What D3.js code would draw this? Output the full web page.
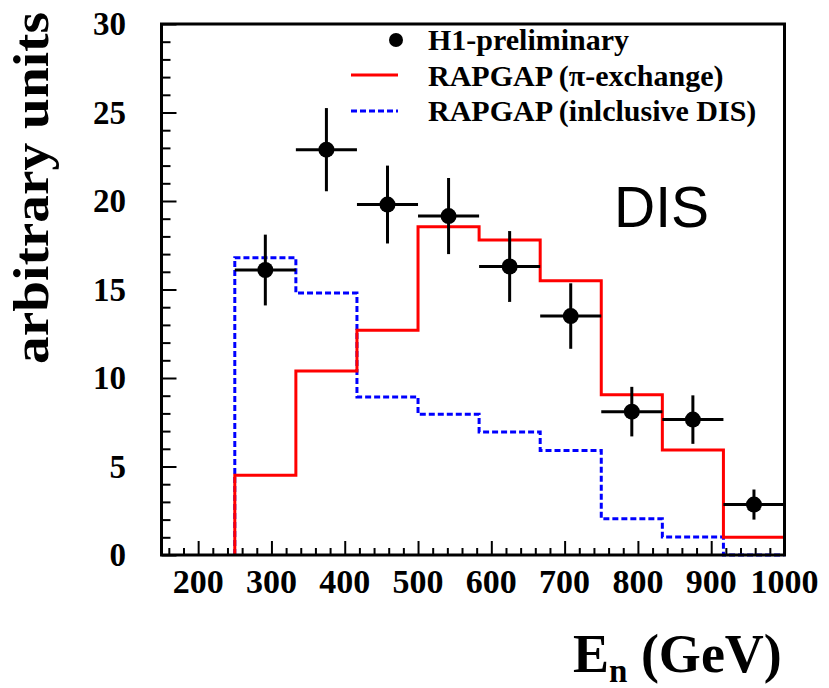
<!DOCTYPE html>
<html>
<head>
<meta charset="utf-8">
<script src="https://cdn.jsdelivr.net/npm/d3@7"></script>
<style>
  body { margin: 0; background: #fff; }
  svg { display: block; }
  text { font-family: "Liberation Serif", "Times New Roman", serif; font-weight: bold; }
</style>
</head>
<body>
<svg id="chart" width="829" height="688"></svg>
<script>
// Neutron energy spectrum, 9 bins of 250–1000 GeV
const binEdges = [250, 333.33, 416.67, 500, 583.33, 666.67, 750, 833.33, 916.67, 1000];
const h1Values = [16.1, 22.9, 19.8, 19.15, 16.3, 13.5, 8.1, 7.65, 2.85];
const h1Errors = [2.0, 2.35, 2.2, 2.15, 2.0, 1.85, 1.4, 1.37, 0.85];
const piExchange = [4.5, 10.4, 12.7, 18.55, 17.8, 15.5, 9.05, 5.93, 1.0];
const inclusiveDIS = [16.8, 14.8, 8.93, 7.95, 6.95, 5.9, 2.05, 1.02, 0.0];
const xTickLabels = [200, 300, 400, 500, 600, 700, 800, 900, 1000];
const yTickLabels = [0, 5, 10, 15, 20, 25, 30];
const legendLabels = ["H1-preliminary", "RAPGAP (\u03c0-exchange)", "RAPGAP (inlclusive DIS)"];

const svg = d3.select("#chart");
const plotLeft = 161.5, plotRight = 784.5, plotTop = 24, plotBottom = 555;

const x = d3.scaleLinear().domain([150, 1000]).range([plotLeft, plotRight]);
const y = d3.scaleLinear().domain([0, 30]).range([plotBottom, plotTop]);

// Axes with major + minor ticks
const xMinor = d3.range(160, 1000.1, 20).filter(v => v % 100 !== 0);
const yMinor = d3.range(0, 30.1, 1).filter(v => v % 5 !== 0);

const xAxisMajor = d3.axisBottom(x).tickValues(xTickLabels).tickSize(-14).tickFormat("");
const xAxisMinor = d3.axisBottom(x).tickValues(xMinor).tickSize(-7).tickFormat("");
const yAxisMajor = d3.axisLeft(y).tickValues(yTickLabels).tickSize(-15).tickFormat("");
const yAxisMinor = d3.axisLeft(y).tickValues(yMinor).tickSize(-9).tickFormat("");

function styleAxis(g) {
  g.select(".domain").remove();
  g.selectAll(".tick line").attr("stroke", "#000").attr("stroke-width", 2);
}
svg.append("g").attr("transform", `translate(0,${plotBottom})`).call(xAxisMajor).call(styleAxis);
svg.append("g").attr("transform", `translate(0,${plotBottom})`).call(xAxisMinor).call(styleAxis);
svg.append("g").attr("transform", `translate(${plotLeft},0)`).call(yAxisMajor).call(styleAxis);
svg.append("g").attr("transform", `translate(${plotLeft},0)`).call(yAxisMinor).call(styleAxis);

// Tick labels
svg.append("g").selectAll("text").data(xTickLabels).join("text")
  .attr("x", d => x(d)).attr("y", 593)
  .attr("text-anchor", "middle").attr("font-size", 34)
  .text(d => d);
svg.append("g").selectAll("text").data(yTickLabels).join("text")
  .attr("x", 126).attr("y", d => y(d) + 11)
  .attr("text-anchor", "end").attr("font-size", 33)
  .text(d => d);

// Histogram step paths
function stepPoints(vals) {
  const pts = [[binEdges[0], 0]];
  vals.forEach((v, i) => pts.push([binEdges[i], v]));
  pts.push([binEdges[binEdges.length - 1], vals[vals.length - 1]]);
  pts.push([binEdges[binEdges.length - 1], 0]);
  return pts;
}
const stepLine = d3.line().x(d => x(d[0])).y(d => y(d[1])).curve(d3.curveStepAfter);

svg.append("path").datum(stepPoints(inclusiveDIS))
  .attr("d", stepLine).attr("fill", "none")
  .attr("stroke", "#0000ff").attr("stroke-width", 3).attr("stroke-dasharray", "6,3");
svg.append("path").datum(stepPoints(piExchange))
  .attr("d", stepLine).attr("fill", "none")
  .attr("stroke", "#ff0000").attr("stroke-width", 3);

// Data points with error bars
const pts = h1Values.map((v, i) => ({
  x0: binEdges[i], x1: binEdges[i + 1], xc: (binEdges[i] + binEdges[i + 1]) / 2, v, e: h1Errors[i]
}));
const pg = svg.append("g");
pg.selectAll("line.h").data(pts).join("line").attr("class", "h")
  .attr("x1", d => x(d.x0)).attr("x2", d => x(d.x1))
  .attr("y1", d => y(d.v)).attr("y2", d => y(d.v))
  .attr("stroke", "#000").attr("stroke-width", 3);
pg.selectAll("line.v").data(pts).join("line").attr("class", "v")
  .attr("x1", d => x(d.xc)).attr("x2", d => x(d.xc))
  .attr("y1", d => y(d.v - d.e)).attr("y2", d => y(d.v + d.e))
  .attr("stroke", "#000").attr("stroke-width", 3);
pg.selectAll("circle").data(pts).join("circle")
  .attr("cx", d => x(d.xc)).attr("cy", d => y(d.v)).attr("r", 8).attr("fill", "#000");

// Frame
svg.append("rect").attr("x", plotLeft).attr("y", plotTop)
  .attr("width", plotRight - plotLeft).attr("height", plotBottom - plotTop)
  .attr("fill", "none").attr("stroke", "#000").attr("stroke-width", 3);

// Legend
const lg = svg.append("g");
lg.append("circle").attr("cx", 396).attr("cy", 40).attr("r", 7).attr("fill", "#000");
lg.append("line").attr("x1", 351).attr("x2", 398).attr("y1", 75).attr("y2", 75)
  .attr("stroke", "#ff0000").attr("stroke-width", 3);
lg.append("line").attr("x1", 351).attr("x2", 398).attr("y1", 111).attr("y2", 111)
  .attr("stroke", "#0000ff").attr("stroke-width", 3).attr("stroke-dasharray", "6,3");
lg.selectAll("text").data(legendLabels).join("text")
  .attr("x", 428).attr("y", (d, i) => 50 + i * 35.5)
  .attr("font-size", 30).text(d => d);

// DIS label
svg.append("text").attr("x", 614).attr("y", 227)
  .style("font-family", "'Liberation Sans', Arial, sans-serif").style("font-weight", "normal")
  .attr("font-size", 57).text("DIS");

// Axis titles
const xt = svg.append("text").attr("x", 573).attr("y", 672).attr("font-size", 54);
xt.append("tspan").text("E");
xt.append("tspan").attr("font-size", 33).attr("dy", 10).text("n");
xt.append("tspan").attr("dy", -10).text(" (GeV)");

svg.append("text").attr("transform", "translate(48,188) rotate(-90)")
  .attr("text-anchor", "middle").attr("font-size", 50)
  .attr("textLength", 352).attr("lengthAdjust", "spacingAndGlyphs")
  .text("arbitrary units");
</script>
</body>
</html>
